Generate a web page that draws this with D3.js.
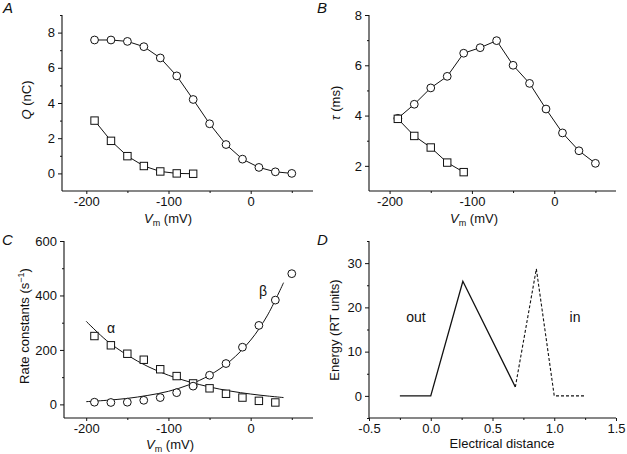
<!DOCTYPE html>
<html>
<head>
<script src="https://d3js.org/d3.v7.min.js"></script>
<style>
  body { margin: 0; background: #fff; }
  text { font-family: "Liberation Sans", Arial, sans-serif; fill: #111; }
</style>
</head>
<body>
<svg width="627" height="454"></svg>
<script>
// ---- data ----
const voltages = [-190, -170, -150, -130, -110, -90, -70, -50, -30, -10, 10, 30, 50];
const qOn  = [7.58, 7.58, 7.5, 7.2, 6.56, 5.54, 4.2, 2.82, 1.64, 0.81, 0.34, 0.09, 0.0];
const qOff = [3.0, 1.85, 0.98, 0.42, 0.11, 0.0, -0.02];
const tauOn  = [3.89, 4.45, 5.1, 5.56, 6.48, 6.7, 6.98, 6.0, 5.28, 4.26, 3.31, 2.6, 2.1];
const tauOff = [3.87, 3.19, 2.73, 2.13, 1.75];
const alphaRate = [251, 217, 186, 164, 129, 104, 77, 59, 39, 25, 13, 7];
const betaRate  = [8, 7, 8, 15, 25, 43, 67, 107, 150, 210, 290, 383, 480];
const fitV     = [-200, -175, -150, -125, -100, -75, -50, -25, 0, 20, 40];
const alphaFit = [305, 234, 181, 139, 107, 83, 64, 49, 38, 31, 25];
const betaFit  = [10, 15, 22, 33, 48, 72, 107, 159, 236, 325, 447];
const distOut   = [-0.25, 0, 0.26, 0.685];
const energyOut = [0, 0, 25.9, 2.0];
const distIn    = [0.685, 0.855, 1.0, 1.245];
const energyIn  = [2.0, 28.7, 0, 0];

const svg = d3.select("svg");

function panel(cfg) {
  const g = svg.append("g");
  const x = d3.scaleLinear().domain(cfg.xDomain).range(cfg.xRange);
  const y = d3.scaleLinear().domain(cfg.yDomain).range(cfg.yRange);
  const x0 = cfg.xRange[0], yb = cfg.yRange[0];

  // major + minor ticks, x
  g.append("g").attr("transform", `translate(0,${yb})`)
    .call(d3.axisBottom(x).tickValues(cfg.xMajor).tickSize(3).tickPadding(3).tickFormat(cfg.fmtX));
  g.append("g").attr("transform", `translate(0,${yb})`)
    .call(d3.axisBottom(x).tickValues(cfg.xMinor).tickSize(2).tickFormat(""));
  // y
  g.append("g").attr("transform", `translate(${x0},0)`)
    .call(d3.axisLeft(y).tickValues(cfg.yMajor).tickSize(4).tickPadding(3).tickFormat(cfg.fmtY));
  g.append("g").attr("transform", `translate(${x0},0)`)
    .call(d3.axisLeft(y).tickValues(cfg.yMinor).tickSize(2).tickFormat(""));

  g.selectAll(".domain").remove();
  g.append("line").attr("x1", x0).attr("x2", cfg.xRange[1]).attr("y1", yb).attr("y2", yb)
    .attr("stroke", "#111").attr("stroke-width", 1.1);
  g.append("line").attr("x1", x0).attr("x2", x0).attr("y1", yb).attr("y2", cfg.yRange[1])
    .attr("stroke", "#111").attr("stroke-width", 1.1);

  g.selectAll(".tick line").attr("stroke", "#111");
  g.selectAll(".tick text").style("font-size", "13px")
    .style("font-family", "Liberation Sans, Arial, sans-serif").attr("fill", "#111");
  return { g, x, y };
}

const hyph = d => String(d);

function vmLabel(g, cx, cy) {
  const t = g.append("text").attr("x", cx).attr("y", cy).attr("text-anchor", "middle").style("font-size", "13px");
  t.append("tspan").text("V").style("font-style", "italic");
  t.append("tspan").text("m").style("font-size", "9px").attr("dy", 3);
  t.append("tspan").text(" (mV)").attr("dy", -3);
}

function yLabel(g, cx, cy, parts) {
  const t = g.append("text").attr("transform", `translate(${cx},${cy}) rotate(-90)`)
    .attr("text-anchor", "middle").style("font-size", "13px");
  parts.forEach(p => {
    const s = t.append("tspan").text(p.t);
    if (p.i) s.style("font-style", "italic");
    if (p.sup) s.style("font-size", "9px").attr("dy", -5);
    if (p.down) s.attr("dy", 5);
  });
}

function letter(txt, x, y) {
  svg.append("text").attr("x", x).attr("y", y).text(txt)
    .style("font-size", "15px").style("font-style", "italic");
}

function series(p, xs, ys, shape, withLine) {
  const pts = xs.map((v, i) => [v, ys[i]]);
  if (withLine) {
    p.g.append("path").datum(pts)
      .attr("fill", "none").attr("stroke", "#111").attr("stroke-width", 1)
      .attr("d", d3.line().x(d => p.x(d[0])).y(d => p.y(d[1])));
  }
  const m = p.g.append("g");
  if (shape === "circle") {
    m.selectAll("circle").data(pts).join("circle")
      .attr("cx", d => p.x(d[0])).attr("cy", d => p.y(d[1])).attr("r", 3.9)
      .attr("fill", "#fff").attr("stroke", "#111").attr("stroke-width", 1);
  } else {
    const s = 7.4;
    m.selectAll("rect").data(pts).join("rect")
      .attr("x", d => p.x(d[0]) - s / 2).attr("y", d => p.y(d[1]) - s / 2)
      .attr("width", s).attr("height", s)
      .attr("fill", "#fff").attr("stroke", "#111").attr("stroke-width", 1);
  }
}

// ---- A ----
const pA = panel({
  xDomain: [-229.6, 75.8], xRange: [62, 313], yDomain: [-1, 9], yRange: [191, 15],
  xMajor: [-200, -100, 0], xMinor: [-150, -50, 50], yMajor: [0, 2, 4, 6, 8], yMinor: [1, 3, 5, 7, 9],
  fmtX: hyph, fmtY: hyph
});
series(pA, voltages, qOn, "circle", true);
series(pA, voltages.slice(0, qOff.length), qOff, "square", true);
vmLabel(pA.g, 168, 223);
yLabel(pA.g, 31, 100, [{ t: "Q", i: true }, { t: " (nC)" }]);
letter("A", 3, 13);

// ---- B ----
const pB = panel({
  xDomain: [-225, 75], xRange: [369, 616], yDomain: [1, 8], yRange: [191, 15],
  xMajor: [-200, -100, 0], xMinor: [-150, -50, 50], yMajor: [2, 4, 6, 8], yMinor: [3, 5, 7],
  fmtX: hyph, fmtY: hyph
});
series(pB, voltages, tauOn, "circle", true);
series(pB, voltages.slice(0, tauOff.length), tauOff, "square", true);
vmLabel(pB.g, 474, 223);
yLabel(pB.g, 340, 103, [{ t: "τ", i: true }, { t: " (ms)" }]);
letter("B", 317, 13);

// ---- C ----
const pC = panel({
  xDomain: [-227, 75.8], xRange: [64, 313], yDomain: [-50, 600], yRange: [418, 241],
  xMajor: [-200, -100, 0], xMinor: [-150, -50, 50], yMajor: [0, 200, 400, 600], yMinor: [100, 300, 500],
  fmtX: hyph, fmtY: hyph
});
const fitLine = ys => d3.line().curve(d3.curveCatmullRom)
  .x((d, i) => pC.x(fitV[i])).y(d => pC.y(d))(ys);
pC.g.append("path").attr("d", fitLine(alphaFit)).attr("fill", "none").attr("stroke", "#111").attr("stroke-width", 1);
pC.g.append("path").attr("d", fitLine(betaFit)).attr("fill", "none").attr("stroke", "#111").attr("stroke-width", 1);
series(pC, voltages.slice(0, alphaRate.length), alphaRate, "square", false);
series(pC, voltages, betaRate, "circle", false);
pC.g.append("text").attr("x", 111).attr("y", 333).attr("text-anchor", "middle").style("font-size", "14px").text("α");
pC.g.append("text").attr("x", 263).attr("y", 296).attr("text-anchor", "middle").style("font-size", "14px").text("β");
vmLabel(pC.g, 170, 449);
yLabel(pC.g, 29, 326, [{ t: "Rate constants (s" }, { t: "−1", sup: true }, { t: ")", down: true }]);
letter("C", 2, 245);

// ---- D ----
const pD = panel({
  xDomain: [-0.5, 1.5], xRange: [369, 616], yDomain: [-5, 35], yRange: [418, 241],
  xMajor: [-0.5, 0, 0.5, 1, 1.5], xMinor: [-0.25, 0.25, 0.75, 1.25], yMajor: [0, 10, 20, 30], yMinor: [-5, 5, 15, 25, 35],
  fmtX: d => d.toFixed(1), fmtY: hyph
});
const eLine = d3.line().x(d => pD.x(d[0])).y(d => pD.y(d[1]));
pD.g.append("path").datum(distOut.map((v, i) => [v, energyOut[i]]))
  .attr("d", eLine).attr("fill", "none").attr("stroke", "#111").attr("stroke-width", 1.3);
pD.g.append("path").datum(distIn.map((v, i) => [v, energyIn[i]]))
  .attr("d", eLine).attr("fill", "none").attr("stroke", "#111").attr("stroke-width", 1.1)
  .attr("stroke-dasharray", "3,2");
pD.g.append("text").attr("x", 416).attr("y", 322).attr("text-anchor", "middle").style("font-size", "14px").text("out");
pD.g.append("text").attr("x", 575).attr("y", 322).attr("text-anchor", "middle").style("font-size", "14px").text("in");
pD.g.append("text").attr("x", 502).attr("y", 448).attr("text-anchor", "middle").style("font-size", "13px").text("Electrical distance");
yLabel(pD.g, 339, 330, [{ t: "Energy (RT units)" }]);
letter("D", 317, 245);
</script>
</body>
</html>
